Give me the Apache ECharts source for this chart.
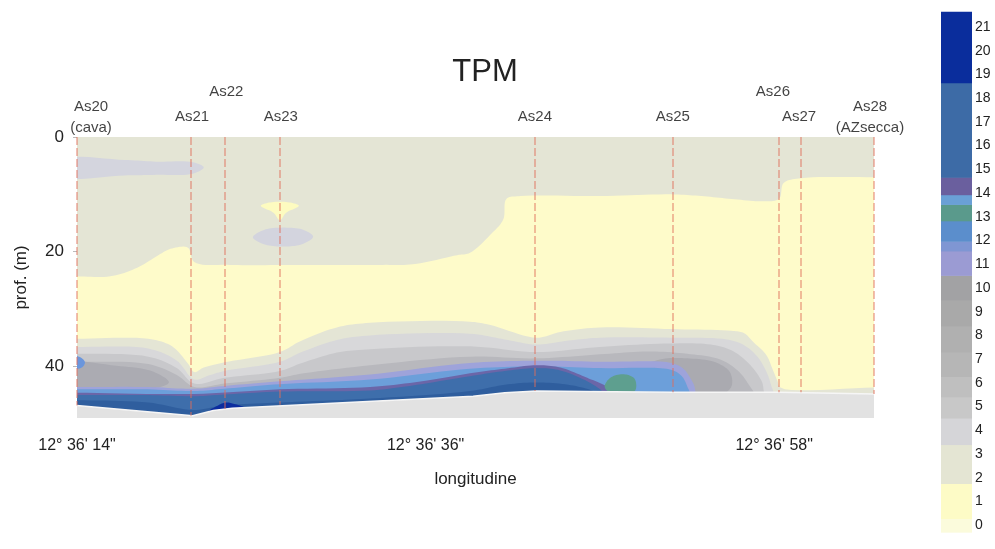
<!DOCTYPE html>
<html><head><meta charset="utf-8">
<script src="https://cdn.jsdelivr.net/npm/echarts@6/dist/echarts.min.js"></script>
<style>html,body{margin:0;padding:0;background:#fff;}#c{width:995px;height:549px;}</style>
</head><body><div id="c"></div>
<script>
// x = seconds of longitude after 12°36'14"; y = depth (m)
const lonTickBase = 14;
const stationNames = ['As20\n(cava)','As21','As22','As23','As24','As25','As26','As27','As28\n(AZsecca)'];
const stationLon   = [0, 7.2, 9.3, 12.8, 28.9, 37.6, 44.3, 45.7, 50.3];
const stationDepth = [46.8, 48.6, 47.5, 46.7, 44.3, 44.5, 44.5, 44.5, 44.8];

// contour band upper boundaries [lon, depth]
const yellowTop = [[0,24.3],[2.1,24.3],[3.8,22.8],[5.2,20.5],[5.9,19.5],[7.0,19.3],[7.4,21.8],[9.7,22.3],[14.1,22.3],[19.3,22.3],[21.2,22.2],[24.0,20.6],[24.8,20.2],[26.1,17.0],[26.9,14.4],[27.1,10.8],[28.0,10.3],[33.0,10.3],[37.5,10.0],[39.4,10.3],[41.3,10.8],[43.2,11.2],[44.3,10.8],[44.6,8.0],[45.7,7.2],[50.3,7.0]];
const lowerGreenTop = [[0,35.2],[4.5,35.2],[6.0,36.5],[7.0,39.5],[7.4,41.0],[8.0,40.2],[9.3,39.3],[12.8,37.5],[14.1,35.6],[16.4,33.2],[18.5,32.4],[24.8,32.2],[26.1,32.8],[29.0,35.0],[30.5,34.0],[33.0,33.2],[37.5,33.5],[41.3,33.8],[42.1,34.2],[42.7,35.8],[43.5,38.0],[43.9,40.5],[44.2,42.5],[44.4,43.7],[50.3,43.7]];
const gray1Top = [[0,36.6],[4.5,36.9],[6.3,39.0],[7.4,42.3],[8.3,41.6],[9.3,40.8],[12.8,39.2],[14.1,37.6],[16.4,35.4],[18.5,34.6],[24.8,34.3],[27.0,35.3],[29.0,36.2],[31,35.5],[33,35.0],[37.5,35.0],[41,35.3],[42.1,36.3],[43.0,38.5],[43.6,41.5],[43.9,44.0],[44.2,45.5],[50.3,45.5]];
const gray2Top = [[0,37.8],[4.5,38.3],[6.3,40.3],[7.4,43.0],[9.3,42.0],[12.8,40.8],[14.1,39.5],[16.4,37.6],[18.5,37.0],[24.8,36.5],[29,37.5],[33,36.6],[37.5,36.0],[40.0,36.2],[41.3,37.2],[42.4,39.5],[43.2,42.5],[43.6,45.5],[50.3,45.5]];
const gray3Top = [[0,39.2],[4.5,39.6],[6.3,41.5],[7.4,43.6],[9.3,43.0],[12.8,42.0],[14.1,41.3],[18.5,39.8],[24.8,38.3],[29,38.6],[33,37.9],[36,37.4],[38.5,37.8],[40.6,38.8],[41.8,41],[42.6,44],[43,45.5],[50.3,45.5]];
const grayCoreWest = [[-1,39.6],[2.5,39.9],[4.8,40.9],[5.8,42.8],[4.5,44.0],[-1,44.0]];
const grayCoreEast = [[35.5,40.5],[36.8,38.8],[38.5,38.6],[40.3,39.3],[41.2,41],[41.3,43.5],[40.5,45.2],[37,45.2],[35.5,43.5]];
const blueSpotWest = [[-0.5,38.2],[0.2,38.4],[0.5,39.3],[0.3,40.2],[-0.5,40.4]];
const lavenderTop = [[0,43.6],[4.5,43.6],[7.4,43.9],[9.3,43.4],[12.8,42.6],[18.5,41.4],[24.8,39.4],[29,39.0],[33,39.2],[37.5,39.4],[38.3,40.5],[38.9,43],[39.3,45.5],[50.3,45.5]];
const blueTop = [[0,44.0],[4.5,44.0],[7.4,44.3],[9.3,43.9],[12.8,43.1],[18.5,42.3],[24.8,40.4],[29,40.0],[33,40.3],[37.5,40.6],[38.2,41.8],[38.6,44],[38.9,45.5],[50.3,45.5]];
const purpleTop = [[0,44.6],[7.4,44.8],[12.8,44.0],[18.5,43.6],[22,42.5],[24.8,41.2],[27,40.4],[29,39.8],[30.5,40.2],[32.2,42.0],[33.3,43.3],[34.0,44.6],[34.3,45.5],[50.3,45.5]];
const tealBlob = [[33.3,43.5],[33.7,41.9],[34.6,41.4],[35.2,42.2],[35.2,44.3],[33.6,44.5]];
const steelTop = [[0,45.0],[4.5,45.0],[7.4,45.2],[9.3,44.9],[12.8,44.4],[18.5,44.2],[21,43.4],[24.8,41.7],[27,40.8],[29,40.3],[30.5,40.7],[32.2,42.6],[33.1,44.2],[33.5,45.5],[50.3,45.5]];
const deepSteelTop = [[0,45.9],[4.5,46.3],[7.3,47.6],[9.3,46.8],[12.8,46.3],[18.5,45.6],[24.8,44.3],[27,43.2],[29,42.8],[31,43.2],[32.5,44.2],[33.2,45.2],[33.5,45.5],[50.3,45.5]];
const navyBlob = [[8.3,47.9],[8.9,46.8],[9.4,46.3],[10.0,46.6],[10.8,47.5],[9.5,48.2]];
const seabedTop = [[0,46.8],[7.3,48.6],[8.6,47.7],[9.8,47.3],[25,45.2],[27,44.6],[29,44.3],[32,44.4],[37.6,44.5],[44.3,44.5],[50.3,44.8]];
const surfaceGrayBlob = [[-1,4.0],[3,4.0],[5,4.3],[7.3,4.4],[8.0,5.3],[7.3,6.4],[5,6.6],[3,6.7],[-1,6.8]];
const yellowBlobAs23 = [[11.6,12.0],[12.2,11.4],[13.4,11.4],[14.0,12.0],[13.2,13.2],[12.8,14.5],[12.4,13.2]];
const grayBlobAs23 = [[11.1,17.5],[11.8,16.2],[13,15.8],[14.3,16.2],[14.9,17.4],[14.2,18.7],[13,19.1],[11.8,18.7]];

// colour scale
const legendLabels = [0,1,2,3,4,5,6,7,8,9,10,11,12,13,14,15,16,17,18,19,20,21];
const legendBreaks = [-0.29,0.29,1.76,3.40,4.51,5.4,6.27,7.3,8.4,9.5,10.53,11.56,11.97,12.83,13.52,13.93,14.67,18.65,21.64];
const legendColors = ['#fbfbdc','#fdfbc6','#e4e5d3','#d5d5d8','#c8c8c8','#bfbfbf','#b6b6b6','#b0b0b0','#a9a9a9','#a2a2a4','#9b9bd3','#7f96d3','#5b8ecc','#5a9a8c','#6aa0d6','#6a5f9e','#3d6ba6','#0a2d9c'];

const bands = [
  {pts: yellowTop, open: true, color: '#fefbca', smooth: true},
  {pts: surfaceGrayBlob, color: '#d4d5de', smooth: true},
  {pts: yellowBlobAs23, color: '#fdfbc0', smooth: true},
  {pts: grayBlobAs23, color: '#d3d4de', smooth: true},
  {pts: lowerGreenTop, open: true, color: '#e4e5d5', smooth: true},
  {pts: gray1Top, open: true, color: '#d8d8da', smooth: true},
  {pts: gray2Top, open: true, color: '#c8c8cb', smooth: true},
  {pts: gray3Top, open: true, color: '#b8b8bd', smooth: true},
  {pts: grayCoreWest, color: '#ababb2', smooth: true},
  {pts: grayCoreEast, color: '#aaaab0', smooth: true},
  {pts: blueSpotWest, color: '#6b96dc', smooth: true},
  {pts: lavenderTop, open: true, color: '#9ea3da', smooth: true},
  {pts: blueTop, open: true, color: '#6c9fda', smooth: true},
  {pts: purpleTop, open: true, color: '#6b66a8', smooth: true},
  {pts: tealBlob, color: '#5e9f8f', smooth: true},
  {pts: steelTop, open: true, color: '#3e6eab', smooth: true},
  {pts: deepSteelTop, open: true, color: '#2f5e9e', smooth: true},
  {pts: navyBlob, color: '#0c2d9f', smooth: true},
  {pts: seabedTop, open: true, color: '#e2e2e2', smooth: false, stroke: '#f6f6f6'}
];

// centripetal Catmull-Rom sampling of pixel points (curve drawing only)
function catmull(P, closed, n) {
  const out = [];
  const m = P.length;
  const get = i => {
    if (closed) return P[(i + m) % m];
    if (i < 0) return [2 * P[0][0] - P[1][0], 2 * P[0][1] - P[1][1]];
    if (i >= m) return [2 * P[m - 1][0] - P[m - 2][0], 2 * P[m - 1][1] - P[m - 2][1]];
    return P[i];
  };
  const dist = (a, b) => Math.max(Math.pow(Math.hypot(b[0] - a[0], b[1] - a[1]), 0.5), 1e-4);
  const segs = closed ? m : m - 1;
  for (let i = 0; i < segs; i++) {
    const p0 = get(i - 1), p1 = get(i), p2 = get(i + 1), p3 = get(i + 2);
    const t0 = 0, t1 = t0 + dist(p0, p1), t2 = t1 + dist(p1, p2), t3 = t2 + dist(p2, p3);
    for (let k = 0; k < n; k++) {
      const t = t1 + (t2 - t1) * k / n;
      const L = (a, b, ta, tb) => [(tb - t) / (tb - ta) * a[0] + (t - ta) / (tb - ta) * b[0], (tb - t) / (tb - ta) * a[1] + (t - ta) / (tb - ta) * b[1]];
      const A1 = L(p0, p1, t0, t1), A2 = L(p1, p2, t1, t2), A3 = L(p2, p3, t2, t3);
      const B1 = L(A1, A2, t0, t2), B2 = L(A2, A3, t1, t3);
      out.push(L(B1, B2, t1, t2));
    }
  }
  if (!closed) out.push(P[m - 1]);
  return out;
}

const FONT = '"Liberation Sans", Arial, sans-serif';
const labelOffsets = [[14,-20],[1,-20],[2,-45],[1,-20],[0,-20],[0,-20],[-6,-45],[-2,-20],[-4,-20]];

const chart = echarts.init(document.getElementById('c'));
chart.setOption({
  animation: false,
  backgroundColor: '#fff',
  title: {text: 'TPM', left: 480, top: 52, textAlign: 'center',
    textStyle: {fontFamily: FONT, fontSize: 31, fontWeight: 'normal', color: '#222'}},
  grid: [
    {left: 77, right: 121, top: 137, bottom: 131, show: true, backgroundColor: '#e4e5d5', borderWidth: 0},
    {left: 941, width: 31, top: 3.2, height: 561.2, show: false}
  ],
  xAxis: [
    {type: 'value', gridIndex: 0, min: 0, max: 50.3, interval: 22,
      axisLine: {show: false}, splitLine: {show: false},
      axisTick: {show: false},
      axisLabel: {showMaxLabel: false, margin: 20, fontSize: 16, color: '#222', fontFamily: FONT,
        formatter: v => '12° 36\' ' + (v + lonTickBase) + '"'},
      name: 'longitudine', nameLocation: 'middle', nameGap: 53,
      nameTextStyle: {fontSize: 17, color: '#222', fontFamily: FONT}},
    {type: 'value', gridIndex: 1, min: 0, max: 1, show: false}
  ],
  yAxis: [
    {type: 'value', gridIndex: 0, inverse: true, min: 0, max: 49, interval: 20,
      axisLine: {show: false}, splitLine: {show: false},
      axisTick: {show: true, length: 4, lineStyle: {color: '#bbb'}},
      axisLabel: {showMaxLabel: false, margin: 13, fontSize: 17, color: '#222', fontFamily: FONT},
      name: 'prof. (m)', nameLocation: 'middle', nameGap: 47,
      nameTextStyle: {fontSize: 17, color: '#222', fontFamily: FONT}},
    {type: 'value', gridIndex: 1, min: -1, max: 22, interval: 1, position: 'right',
      axisLine: {show: false}, axisTick: {show: false}, splitLine: {show: false},
      axisLabel: {margin: 3, fontSize: 14, color: '#222', fontFamily: FONT,
        formatter: v => legendLabels.indexOf(v) >= 0 ? String(v) : ''}}
  ],
  series: [
    {
      type: 'custom', xAxisIndex: 0, yAxisIndex: 0, clip: true, silent: true, z: 2,
      data: bands.map(() => [0, 0]),
      renderItem: (params, api) => {
        const b = bands[params.dataIndex];
        let src = b.pts;
        if (b.open) {
          const f = src[0], l = src[src.length - 1];
          src = [[-3, f[1]]].concat(src, [[54, l[1]]]);
        }
        let pts = src.map(p => api.coord(p));
        if (b.smooth) pts = catmull(pts, !b.open, 10);
        if (b.open) pts = pts.concat([api.coord([54, 60]), api.coord([-3, 60])]);
        return {type: 'polygon', shape: {points: pts},
          style: {fill: b.color, stroke: b.stroke || null, lineWidth: b.stroke ? 1.5 : 0}};
      }
    },
    {
      type: 'scatter', xAxisIndex: 0, yAxisIndex: 0, symbolSize: 0, clip: false, silent: true, z: 5,
      data: stationLon.map((s, i) => ({value: [s, 0], name: stationNames[i],
        label: {offset: labelOffsets[i]}})),
      label: {show: true, position: 'inside', formatter: p => p.name, fontSize: 15, lineHeight: 21,
        color: '#111', fontFamily: FONT, align: 'center', verticalAlign: 'middle'},
      markLine: {silent: true, symbol: ['none', 'none'], label: {show: false},
        lineStyle: {color: 'rgba(225,110,90,0.6)', width: 1.5, type: [8, 3]},
        data: stationLon.map((s, i) => [{coord: [s, 0]}, {coord: [s, stationDepth[i]]}])}
    },
    {
      type: 'custom', xAxisIndex: 1, yAxisIndex: 1, silent: true,
      data: legendColors.map((c, i) => [0, legendBreaks[i]]),
      renderItem: (params, api) => {
        const i = params.dataIndex;
        const p1 = api.coord([0, legendBreaks[i]]);
        const p2 = api.coord([1, legendBreaks[i + 1]]);
        return {type: 'rect', shape: {x: p1[0], y: p2[1], width: p2[0] - p1[0], height: p1[1] - p2[1] + 0.5},
          style: {fill: legendColors[i]}};
      }
    }
  ]
});
</script></body></html>
